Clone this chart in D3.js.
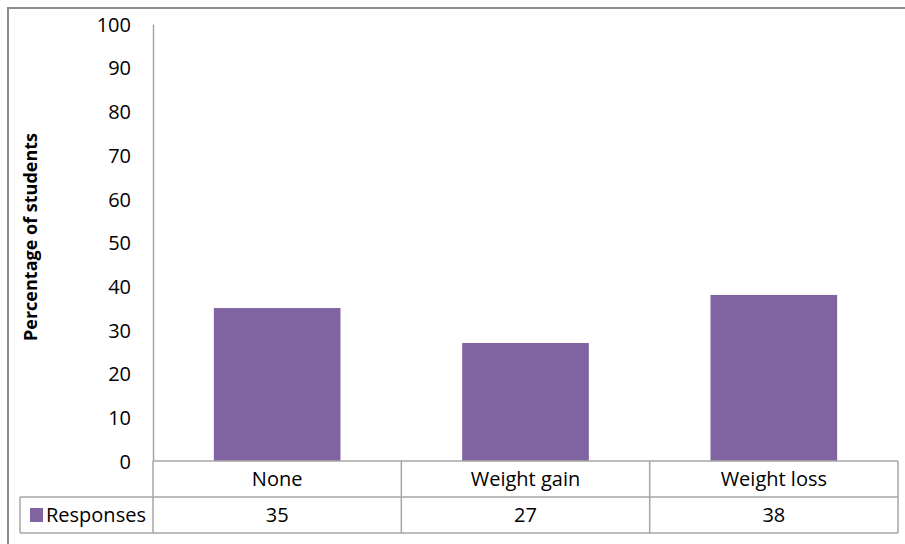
<!DOCTYPE html>
<html>
<head>
<meta charset="utf-8">
<script src="https://cdn.jsdelivr.net/npm/d3@7"></script>
<style>
  body { margin: 0; background: #fff; }
  svg text { font-family: "Open Sans", sans-serif; fill: #000; }
</style>
</head>
<body>
<svg width="905" height="544"></svg>
<script>
const categories = ["None", "Weight gain", "Weight loss"];
const responses = [35, 27, 38];
const yTicks = [0, 10, 20, 30, 40, 50, 60, 70, 80, 90, 100];
const seriesName = "Responses";
const yTitle = "Percentage of students";

const svg = d3.select("svg");
const barColor = "#8064a2";
const gridColor = "#a6a6a6";

// outer chart frame (runs off the right/bottom edge like the screenshot)
svg.append("rect")
  .attr("x", 8).attr("y", 8)
  .attr("width", 910).attr("height", 560)
  .attr("fill", "none")
  .attr("stroke", "#8c8c8c")
  .attr("stroke-width", 2);

const x = d3.scaleBand().domain(categories).range([153, 898]);
const y = d3.scaleLinear().domain([0, 100]).range([461, 24]);

// y axis
const yAxis = d3.axisLeft(y).tickValues(yTicks).tickSize(0).tickPadding(22);
const gy = svg.append("g").attr("transform", "translate(153,0)").call(yAxis);
gy.select(".domain").attr("stroke", gridColor).attr("stroke-width", 1.5);
gy.selectAll("text").style("font-size", "20px").attr("dy", "0.36em");

// bars
svg.append("g").selectAll("rect")
  .data(categories)
  .enter()
  .append("rect")
  .attr("x", (d) => x(d) + x.bandwidth() * 0.245)
  .attr("width", x.bandwidth() * 0.51)
  .attr("y", (d, i) => y(responses[i]))
  .attr("height", (d, i) => y(0) - y(responses[i]))
  .attr("fill", barColor);

// data table under the plot
const rowTop = y(0), rowMid = 497, rowBot = 533, tableLeft = 20;
const lines = svg.append("g").attr("stroke", gridColor).attr("stroke-width", 1.5);
lines.append("line").attr("x1", 153).attr("x2", 898).attr("y1", rowTop).attr("y2", rowTop);
lines.append("line").attr("x1", tableLeft).attr("x2", 898).attr("y1", rowMid).attr("y2", rowMid);
lines.append("line").attr("x1", tableLeft).attr("x2", 898).attr("y1", rowBot).attr("y2", rowBot);
lines.append("line").attr("x1", tableLeft).attr("x2", tableLeft).attr("y1", rowMid).attr("y2", rowBot);
lines.append("line").attr("x1", 153).attr("x2", 153).attr("y1", rowTop).attr("y2", rowBot);
lines.selectAll("line.col")
  .data(categories)
  .enter()
  .append("line")
  .attr("class", "col")
  .attr("x1", (d) => x(d) + x.bandwidth())
  .attr("x2", (d) => x(d) + x.bandwidth())
  .attr("y1", rowTop).attr("y2", rowBot);

svg.append("g").selectAll("text")
  .data(categories)
  .enter()
  .append("text")
  .attr("x", (d) => x(d) + x.bandwidth() / 2)
  .attr("y", 486)
  .attr("text-anchor", "middle")
  .style("font-size", "20px")
  .text((d) => d);

svg.append("g").selectAll("text")
  .data(responses)
  .enter()
  .append("text")
  .attr("x", (d, i) => x(categories[i]) + x.bandwidth() / 2)
  .attr("y", 522)
  .attr("text-anchor", "middle")
  .style("font-size", "20px")
  .text((d) => d);

// legend key in the table
svg.append("rect")
  .attr("x", 30).attr("y", 508)
  .attr("width", 13).attr("height", 14)
  .attr("fill", barColor);
svg.append("text")
  .attr("x", 46).attr("y", 522)
  .style("font-size", "20px")
  .text(seriesName);

// y axis title
svg.append("text")
  .attr("transform", "translate(37,237) rotate(-90)")
  .attr("text-anchor", "middle")
  .style("font-size", "18px")
  .style("font-weight", "bold")
  .text(yTitle);
</script>
</body>
</html>
